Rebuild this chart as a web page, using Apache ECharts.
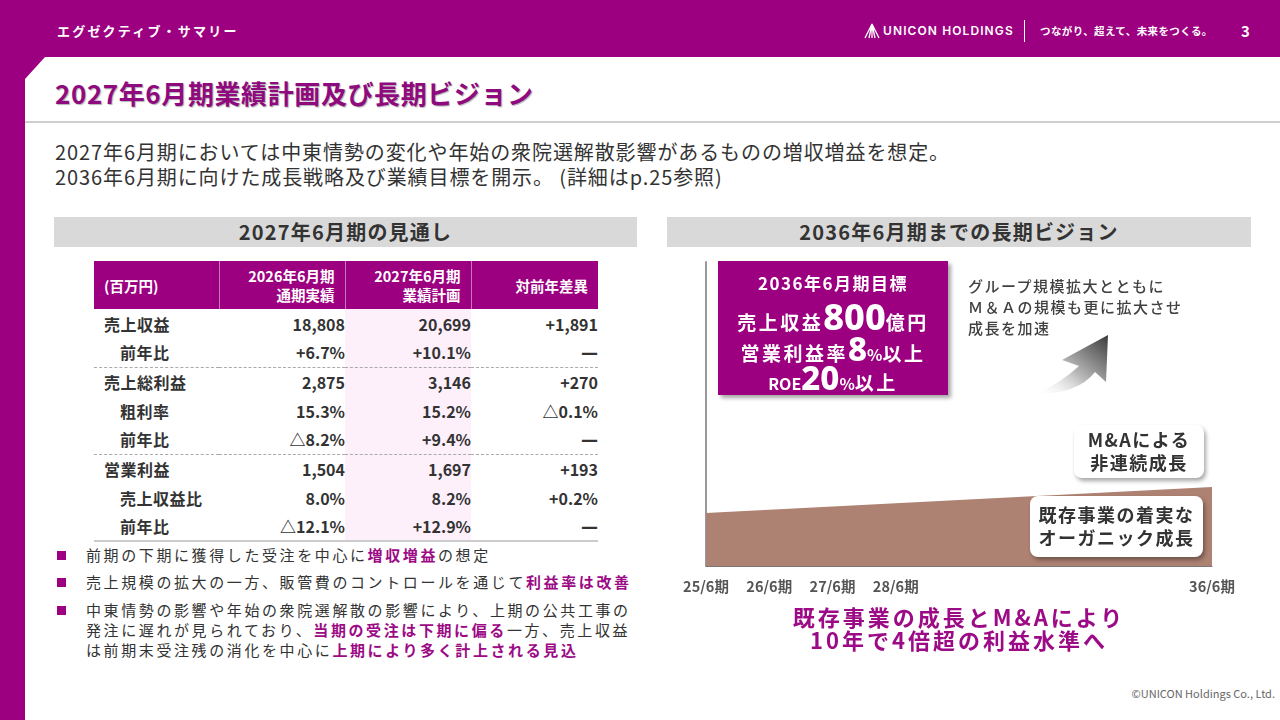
<!DOCTYPE html>
<html><head><meta charset="utf-8">
<script src="https://cdn.jsdelivr.net/npm/echarts@6/dist/echarts.min.js"></script>
<style>
*{margin:0;padding:0;box-sizing:border-box}
body{width:1280px;height:720px;overflow:hidden;background:#9c0080;font-family:"Noto Sans CJK JP","Noto Sans",sans-serif;position:relative;color:#333}
.abs{position:absolute}
#panel{left:25px;top:57px;width:1255px;height:663px;background:#fff;clip-path:polygon(20px 0,100% 0,100% 100%,0 100%,0 22px)}
.hdr{color:#fff;font-weight:700}
.bar{background:#d9d9d9;height:30px;line-height:30px;text-align:center;font-size:20px;font-weight:700;color:#333;letter-spacing:1.2px}
table{border-collapse:collapse;table-layout:fixed}
th{background:#9c0080;color:#fff;font-size:14.5px;font-weight:700;line-height:19px;text-align:right;padding:0 10px 0 0;height:48px;border-left:1px solid #c27bb3}
th:first-child{text-align:left;padding-left:10px;border-left:none}
td{height:29px;font-size:16px;font-weight:700;text-align:right;padding:0;color:#333;white-space:nowrap}
td.lab{text-align:left;padding-left:10px;letter-spacing:0.5px}
td.sub{padding-left:26px}
td.c3{background:#fdf0fb}
tr.sep td{border-bottom:1px dashed #aaa}
tr.last td{border-bottom:2px solid #ccc}
.dash{font-family:"DejaVu Sans",sans-serif;font-weight:700;font-size:17px}
.bul{left:57px;font-size:15px;letter-spacing:2.6px;line-height:20px;color:#333;white-space:nowrap}
.bul i{position:absolute;left:0;top:6px;width:9px;height:9px;background:#9c0080}
.bul span.t{display:block;margin-left:29px}
.hl{color:#9c0a86;font-weight:700}
.pb{left:718px;top:261px;width:230px;height:134px;background:#9c0080;box-shadow:3px 3px 4px rgba(0,0,0,0.35);color:#fff;font-weight:700;text-align:center}
.pb div{position:absolute;left:0;width:100%;white-space:nowrap}
.wb{background:#fff;border-radius:8px;box-shadow:2px 3px 4px rgba(0,0,0,0.35);text-align:center;font-size:18px;font-weight:700;color:#333;line-height:23px;letter-spacing:1.5px}
</style></head>
<body>
<div id="panel" class="abs"></div>
<!-- header -->
<div class="abs hdr" style="left:57px;top:21px;font-size:13px;letter-spacing:2.2px">エグゼクティブ・サマリー</div>
<svg class="abs" style="left:864px;top:23px" width="16" height="16" viewBox="0 0 16 16"><path d="M8 1 L1 15 M8 1 L15 15 M8 1 L5 15 M8 1 L11 15 M8 1 L8 15" stroke="#fff" stroke-width="1.3" fill="none"/></svg>
<div class="abs" style="left:883px;top:23px;font-family:Inter,'Noto Sans',sans-serif;font-size:12px;font-weight:600;color:#fff;letter-spacing:1.1px">UNICON HOLDINGS</div>
<div class="abs" style="left:1024px;top:20px;width:1px;height:22px;background:#fff"></div>
<div class="abs hdr" style="left:1040px;top:23px;font-size:10.5px;letter-spacing:0.4px">つながり、超えて、未来をつくる。</div>
<div class="abs hdr" style="left:1241px;top:20px;font-size:15px">3</div>
<!-- title -->
<div class="abs" style="left:55px;top:74px;font-size:26px;font-weight:700;color:#8e0a7e;letter-spacing:0.6px;text-shadow:1px 1px 1px rgba(0,0,0,0.3)">2027年6月期業績計画及び長期ビジョン</div>
<div class="abs" style="left:25px;top:121px;width:1255px;height:2px;background:#cfcfcf"></div>
<div class="abs" style="left:55px;top:139px;font-size:20px;line-height:25px;letter-spacing:0.9px;color:#333;white-space:nowrap">2027年6月期においては中東情勢の変化や年始の衆院選解散影響があるものの増収増益を想定。<br>2036年6月期に向けた成長戦略及び業績目標を開示。 (詳細はp.25参照)</div>
<!-- section bars -->
<div class="abs bar" style="left:54px;top:217px;width:583px">2027年6月期の見通し</div>
<div class="abs bar" style="left:667px;top:217px;width:584px">2036年6月期までの長期ビジョン</div>
<!-- table -->
<table id="tbl" class="abs" style="left:94px;top:261px;width:504px">
<colgroup><col style="width:125px"><col style="width:126px"><col style="width:126px"><col style="width:127px"></colgroup>
<thead><tr id="thead"></tr></thead><tbody id="tbody"></tbody></table>
<!-- bullets -->
<div class="abs bul" style="top:545px"><i></i><span class="t">前期の下期に獲得した受注を中心に<span class="hl">増収増益</span>の想定</span></div>
<div class="abs bul" style="top:572px"><i></i><span class="t">売上規模の拡大の一方、販管費のコントロールを通じて<span class="hl">利益率は改善</span></span></div>
<div class="abs bul" style="top:600px"><i></i><span class="t">中東情勢の影響や年始の衆院選解散の影響により、上期の公共工事の<br>発注に遅れが見られており、<span class="hl">当期の受注は下期に偏る</span>一方、売上収益<br>は前期末受注残の消化を中心に<span class="hl">上期により多く計上される見込</span></span></div>
<!-- chart -->
<div id="chart" class="abs" style="left:667px;top:250px;width:613px;height:400px"></div>
<div class="abs pb">
  <div style="top:9px;font-size:17px;letter-spacing:1.5px">2036年6月期目標</div>
  <div style="top:36px;font-size:19px;letter-spacing:2.5px;line-height:40px">売上収益<span style="font-size:36px;letter-spacing:0;font-family:'Noto Sans',sans-serif;font-weight:800">800</span>億円</div>
  <div style="top:70px;font-size:19px;letter-spacing:2.5px;line-height:36px">営業利益率<span style="font-size:33px;letter-spacing:0;font-family:'Noto Sans',sans-serif;font-weight:800">8</span><span style="font-size:16px;letter-spacing:0">%</span>以上</div>
  <div style="top:99px;font-size:19px;letter-spacing:2.5px;line-height:36px"><span style="font-size:16px;letter-spacing:0">ROE</span><span style="font-size:33px;letter-spacing:0;font-family:'Noto Sans',sans-serif;font-weight:800">20</span><span style="font-size:16px;letter-spacing:0">%</span>以上</div>
</div>
<div class="abs" style="left:968px;top:275px;font-size:15px;line-height:21px;letter-spacing:1.5px;color:#404040;font-weight:500">グループ規模拡大とともに<br>Ｍ＆Ａの規模も更に拡大させ<br>成長を加速</div>
<svg class="abs" style="left:1030px;top:330px" width="85" height="70" viewBox="1030 330 85 70">
<defs><linearGradient id="ag" x1="0" y1="1" x2="1" y2="0"><stop offset="0" stop-color="#fff" stop-opacity="0"/><stop offset="0.45" stop-color="#bbb"/><stop offset="1" stop-color="#3a3a3a"/></linearGradient></defs>
<path d="M1036 394 Q1062 382 1079 366 L1062 360 L1108 335 L1106 382 L1095 372 Q1078 394 1036 394 Z" fill="url(#ag)"/>
</svg>
<div class="abs wb" style="left:1074px;top:425px;width:130px;height:53px;padding-top:3px">M&amp;Aによる<br>非連続成長</div>
<div class="abs wb" style="left:1030px;top:496px;width:173px;height:61px;padding-top:7px">既存事業の着実な<br>オーガニック成長</div>
<div class="abs" style="left:667px;top:605px;width:584px;text-align:center;font-size:22px;line-height:23px;font-weight:700;color:#9c0a86;letter-spacing:3px">既存事業の成長とM&amp;Aにより<br>10年で4倍超の利益水準へ</div>
<div class="abs" style="right:5px;top:685px;font-size:11px;color:#666">©UNICON Holdings Co., Ltd.</div>
<script>
// ---- table data ----
const tableHeaders = ['(百万円)', '2026年6月期<br>通期実績', '2027年6月期<br>業績計画', '対前年差異'];
const rowLabels = ['売上収益', '前年比', '売上総利益', '粗利率', '前年比', '営業利益', '売上収益比', '前年比'];
const rowIsSub = [false, true, false, true, true, false, true, true];
const fy2026Actual = ['18,808', '+6.7%', '2,875', '15.3%', '△8.2%', '1,504', '8.0%', '△12.1%'];
const fy2027Plan = ['20,699', '+10.1%', '3,146', '15.2%', '+9.4%', '1,697', '8.2%', '+12.9%'];
const yoyDiff = ['+1,891', '—', '+270', '△0.1%', '—', '+193', '+0.2%', '—'];
// ---- chart data ----
const periodLabels = ['25/6期', '26/6期', '27/6期', '28/6期', '', '', '', '', '36/6期'];
const organicGrowth = [17.4, null, null, null, null, null, null, null, 26];

function cell(v) { return v === '—' ? '<span class="dash">—</span>' : v; }
document.getElementById('thead').innerHTML = tableHeaders.map(h => '<th>' + h + '</th>').join('');
const tb = document.getElementById('tbody');
rowLabels.forEach((lab, i) => {
  const tr = document.createElement('tr');
  if (i === 1 || i === 4) tr.className = 'sep';
  if (i === rowLabels.length - 1) tr.className = 'last';
  tr.innerHTML = '<td class="lab' + (rowIsSub[i] ? ' sub' : '') + '">' + lab + '</td>' +
    '<td>' + cell(fy2026Actual[i]) + '</td><td class="c3">' + cell(fy2027Plan[i]) + '</td><td>' + cell(yoyDiff[i]) + '</td>';
  tb.appendChild(tr);
});

const chart = echarts.init(document.getElementById('chart'));
chart.setOption({
  animation: false,
  grid: { left: 39, right: 68, top: 12, bottom: 84 },
  xAxis: {
    type: 'category', data: periodLabels, boundaryGap: false,
    axisLine: { show: true, lineStyle: { color: '#777', width: 1 } },
    axisTick: { show: false },
    axisLabel: { interval: 0, margin: 13, fontSize: 14.5, fontWeight: 'bold', color: '#555', fontFamily: 'Noto Sans CJK JP' },
    splitLine: { show: false }
  },
  yAxis: {
    type: 'value', min: 0, max: 100,
    axisLine: { show: true, lineStyle: { color: '#999', width: 2 } },
    axisTick: { show: false }, axisLabel: { show: false }, splitLine: { show: false }
  },
  series: [{
    type: 'line', data: organicGrowth, connectNulls: true, symbol: 'none',
    lineStyle: { width: 0 }, areaStyle: { color: '#ae8272', opacity: 1 }
  }]
});
</script>
</body></html>
